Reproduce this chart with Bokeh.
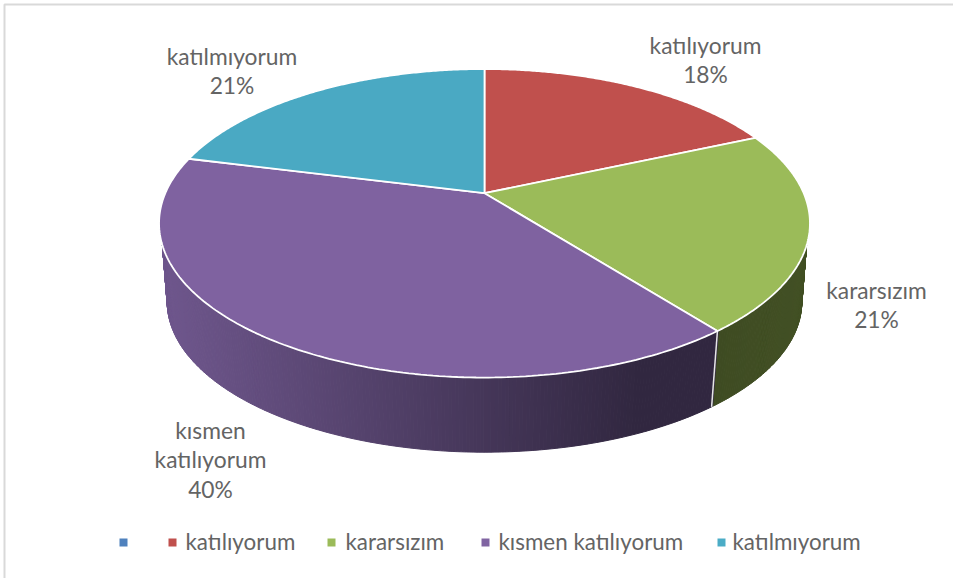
import numpy as np
from bokeh.plotting import figure
from bokeh.models import Range1d
from bokeh.core.properties import value
from bokeh.embed import file_html
from bokeh.resources import INLINE

categories = ["katılıyorum", "kararsızım", "kısmen katılıyorum", "katılmıyorum"]
values = [18.4, 21.0, 39.51, 21.09]
slice_colors = ["#c0504d", "#9bbb59", "#7f62a0", "#4aa9c3"]
legend_entries = ["", "katılıyorum", "kararsızım", "kısmen katılıyorum", "katılmıyorum"]
legend_colors = ["#4f81bd", "#c0504d", "#9bbb59", "#8064a2", "#4bacc6"]

FONT = value("Lato")
TXT = "#646464"

p = figure(width=953, height=578, output_backend="svg", toolbar_location=None,
           x_range=Range1d(0, 953), y_range=Range1d(578, 0),
           min_border=0, outline_line_color=None, background_fill_color="white",
           border_fill_color="white", x_axis_type=None, y_axis_type=None)
p.grid.visible = False
p.styles = {"position": "absolute", "left": "0", "top": "0"}

# projection of the pie disc
CX, APEX_Y = 484.0, 192.7
K, B, A = 0.195, 148.4, 319.2
TOP_CY, LOW_CY, SHRINK = 223.0, 301.5, 0.975
WALL_START_Y = 245.0


def rim(theta):
    u, v = np.sin(theta), np.cos(theta)
    w = 1 + K * v
    return CX + A * u / w, APEX_Y - B * v / w


def lower(x, y):
    return CX + SHRINK * (x - CX), LOW_CY + SHRINK * (y - TOP_CY)


fr = np.array(values) / sum(values)
edges = np.concatenate([[0], np.cumsum(fr)]) * 2 * np.pi


def mix(c0, c1, t):
    t = min(max(t, 0), 1)
    return "#%02x%02x%02x" % tuple(int(round(a + (b - a) * t)) for a, b in zip(c0, c1))


# side wall, drawn as narrow strips with a left-to-right shade
PUR_L, PUR_R = (0x6e, 0x56, 0x8c), (0x31, 0x27, 0x40)
GRN_L, GRN_R = (0x3e, 0x4b, 0x22), (0x42, 0x50, 0x24)
fine = np.linspace(edges[1], edges[3], 3000)
fx, fy = rim(fine)
below = np.where(fy >= WALL_START_Y)[0]
right_anchor = (fx[below[0]], fy[below[0]])
left_anchor = (fx[below[-1]], fy[below[-1]])


def upper(t):
    x, y = rim(t)
    if y >= WALL_START_Y:
        return x, y
    return right_anchor if x > CX else left_anchor


sx, sy, sc = [], [], []
th = np.linspace(edges[1], edges[3], 420)
for a, b in zip(th[:-1], th[1:]):
    ra, rb = rim(a), rim(b)
    if ra[1] < TOP_CY - 2 and rb[1] < TOP_CY - 2:
        continue
    lxa, lya = lower(*ra)
    lxb, lyb = lower(*rb)
    xa, ya = upper(a)
    xb, yb = upper(b)
    sx.append([xa, xb, lxb, lxa])
    sy.append([ya, yb, lyb, lya])
    if (a + b) / 2 < edges[2]:
        sc.append(mix(GRN_L, GRN_R, (xa - 716) / 90))
    else:
        sc.append(mix(PUR_R, PUR_L, (640 - xa) / 475))
p.patches(sx, sy, fill_color=sc, line_color=sc, line_width=1)

# seam between the two visible wall pieces
bx, by = rim(edges[2])
lbx, lby = lower(bx, by)
p.segment([bx], [by], [lbx], [lby], line_color="#e6e6e6", line_width=1.5)

# top face
tx, ty = [], []
for i in range(len(values)):
    t = np.linspace(edges[i], edges[i + 1], 160)
    x, y = rim(t)
    tx.append(np.concatenate([[CX], x]).tolist())
    ty.append(np.concatenate([[APEX_Y], y]).tolist())
p.patches(tx, ty, fill_color=slice_colors, line_color="white", line_width=1.8)

# data labels
pct = [f"{round(f * 100)}%" for f in fr]
label_lines = [
    ([categories[0], pct[0]], 705, 44),
    ([categories[1], pct[1]], 876, 289),
    (["kısmen", "katılıyorum", pct[2]], 210, 429),
    ([categories[3], pct[3]], 231.5, 55),
]
lx, ly, lt = [], [], []
for lines, x0, y0 in label_lines:
    for j, s in enumerate(lines):
        lx.append(x0)
        ly.append(y0 + j * 29.8)
        lt.append(s)
p.text(lx, ly, text=lt, text_font=FONT, text_font_size="22.8px", text_color=TXT,
       text_align="center", text_baseline="middle")

# legend
mark_x = [123, 172, 331, 485, 721]
text_x = [136, 185, 345, 498, 732]
p.rect(mark_x, [542] * 5, width=8, height=8, fill_color=legend_colors, line_color=None)
p.text(text_x, [541] * 5, text=legend_entries, text_font=FONT, text_font_size="22.4px",
       text_color=TXT, text_align="left", text_baseline="middle")

# chart frame: only the top and left edges show in the picture
p.line([4, 4, 953], [578, 4, 4], line_color="#d9d9d9", line_width=2)

open("out.html", "w").write(file_html(p, INLINE))
